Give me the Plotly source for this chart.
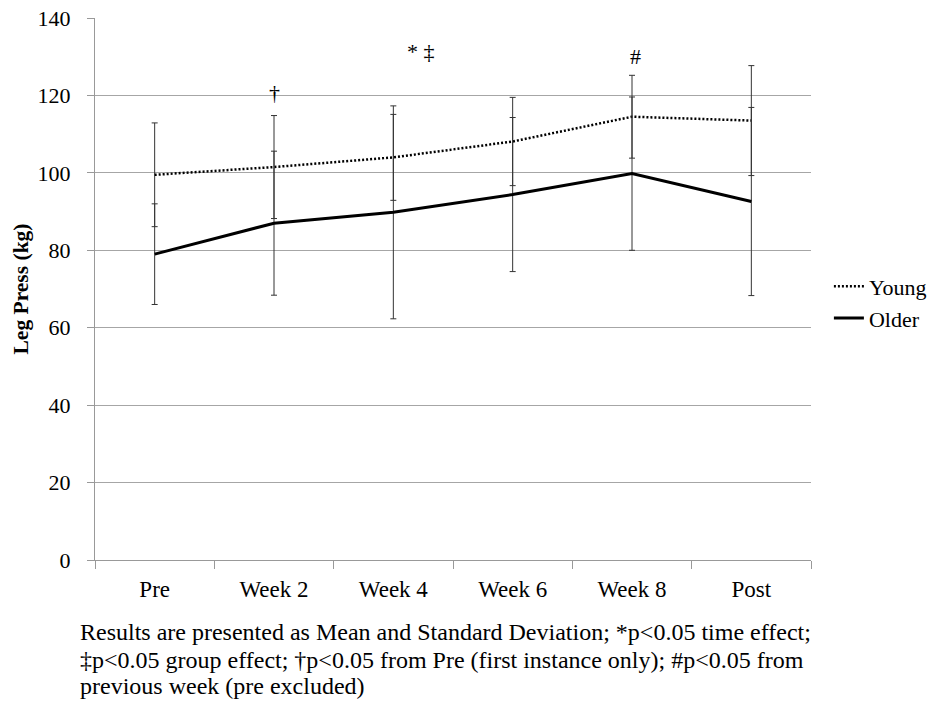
import plotly.graph_objects as go

categories = ["Pre", "Week 2", "Week 4", "Week 6", "Week 8", "Post"]
young_mean = [99.5, 101.5, 104.0, 108.1, 114.5, 113.5]
young_sd = [13.4, 13.3, 11.1, 11.4, 10.7, 14.2]
older_mean = [79.0, 87.0, 89.8, 94.4, 99.8, 92.6]
older_sd = [13.0, 18.6, 27.5, 19.9, 19.8, 24.3]
y_ticks = [0, 20, 40, 60, 80, 100, 120, 140]
caption_lines = [
    "Results are presented as Mean and Standard Deviation; *p<0.05 time effect;",
    "‡p<0.05 group effect; †p<0.05 from Pre (first instance only); #p<0.05 from",
    "previous week (pre excluded)",
]

FONT = "Liberation Serif"

fig = go.Figure()
fig.add_trace(go.Scatter(
    x=categories, y=young_mean, name="Young", mode="lines",
    line=dict(color="black", width=2.5, dash="2px,2px"),
    error_y=dict(type="data", array=young_sd, visible=True,
                 color="#333333", thickness=1, width=3),
))
fig.add_trace(go.Scatter(
    x=categories, y=older_mean, name="Older", mode="lines",
    line=dict(color="black", width=3),
    error_y=dict(type="data", array=older_sd, visible=True,
                 color="#333333", thickness=1, width=3),
))

annotations = [
    dict(x="Week 2", y=120.8, text="†", showarrow=False, xref="x", yref="y",
         font=dict(family=FONT, size=22, color="black")),
    dict(x="Week 4", y=131.3, text="* ‡", showarrow=False, xref="x", yref="y",
         xshift=28, font=dict(family=FONT, size=22, color="black")),
    dict(x="Week 8", y=130.0, text="#", showarrow=False, xref="x", yref="y",
         xshift=3, font=dict(family=FONT, size=22, color="black")),
]
caption_y = [-0.1328, -0.1845, -0.2325]
for line, yy in zip(caption_lines, caption_y):
    annotations.append(dict(
        x=-0.0237, y=yy, xref="paper", yref="paper", xanchor="left",
        yanchor="middle", align="left", showarrow=False, text=line,
        font=dict(family=FONT, size=24, color="black")))

fig.update_layout(
    width=938, height=704,
    margin=dict(l=95, r=127, t=18, b=144, autoexpand=False),
    paper_bgcolor="white", plot_bgcolor="white",
    font=dict(family=FONT, size=22, color="black"),
    showlegend=True,
    legend=dict(x=1.025, y=0.475, xanchor="left", yanchor="middle",
                font=dict(family=FONT, size=22, color="black"),
                bgcolor="rgba(0,0,0,0)", tracegroupgap=0, itemwidth=30),
    annotations=annotations,
)
fig.update_xaxes(
    type="category", categoryorder="array", categoryarray=categories,
    range=[-0.5, 5.5], showgrid=False, showline=True, linecolor="#999999",
    linewidth=1, ticks="outside", tickson="boundaries", ticklen=8,
    tickcolor="#999999", tickfont=dict(family=FONT, size=23, color="black"),
    ticklabelstandoff=8, zeroline=False, automargin=False,
)
fig.update_yaxes(
    range=[0, 140], tickvals=y_ticks, showgrid=True, gridcolor="#a6a6a6",
    gridwidth=1, showline=True, linecolor="#999999", linewidth=1,
    ticks="outside", ticklen=7, tickcolor="#999999",
    tickfont=dict(family=FONT, size=22, color="black"), zeroline=False,
    ticklabelstandoff=12, automargin=False,
    title=dict(text="<b>Leg Press (kg)</b>", standoff=3,
               font=dict(family=FONT, size=21.5, color="black")),
)

fig.write_html("out.html")
